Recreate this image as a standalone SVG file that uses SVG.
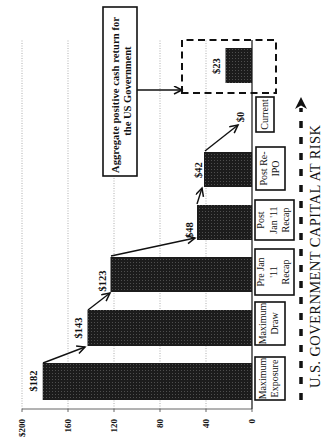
<svg xmlns="http://www.w3.org/2000/svg" width="327" height="444" viewBox="0 0 327 444">
<style>
text{font-family:"Liberation Serif","DejaVu Serif",serif;fill:#111}
.val{font-size:10.5px;font-weight:bold;text-anchor:middle}
.tick{font-size:9px;font-weight:bold;text-anchor:end}
.cat{font-size:10px;text-anchor:middle}
.bar{fill:url(#stip)}
.box{fill:#fff;stroke:#111;stroke-width:1.6}
.grid{stroke:#9a9a9a;stroke-width:0.8;stroke-dasharray:1 1.5}
.arr{stroke:#111;stroke-width:1.4;fill:none;marker-end:url(#ah)}
</style>
<defs>
<pattern id="stip" width="3" height="3" patternUnits="userSpaceOnUse">
<rect width="3" height="3" fill="#1c1c1c"/>
<rect x="1" y="1" width="0.8" height="0.8" fill="#6a6a6a"/>
</pattern>
<marker id="ah" markerUnits="userSpaceOnUse" markerWidth="11" markerHeight="10" refX="9" refY="4.5" orient="auto">
<path d="M1,0.5 L9,4.5 L1,8.5" fill="none" stroke="#111" stroke-width="1.5"/>
</marker>
</defs>
<rect width="327" height="444" fill="#fff"/>
<g transform="translate(0,444) rotate(-90)">
 <g id="axes">
  <line class="grid" x1="35" y1="22" x2="404" y2="22"/>
  <line class="grid" x1="35" y1="68" x2="404" y2="68"/>
  <line class="grid" x1="35" y1="114" x2="404" y2="114"/>
  <line class="grid" x1="35" y1="160" x2="404" y2="160"/>
  <line class="grid" x1="35" y1="206" x2="404" y2="206"/>
  <line x1="35" y1="22" x2="35" y2="252" stroke="#555" stroke-width="0.9"/>
  <g stroke="#555" stroke-width="0.9">
   <line x1="32" y1="22" x2="35" y2="22"/><line x1="32" y1="68" x2="35" y2="68"/>
   <line x1="32" y1="114" x2="35" y2="114"/><line x1="32" y1="160" x2="35" y2="160"/>
   <line x1="32" y1="206" x2="35" y2="206"/><line x1="32" y1="252" x2="35" y2="252"/>
  </g>
  <line x1="35" y1="252" x2="404" y2="252" stroke="#111" stroke-width="1.2"/>
  <text class="tick" x="25" y="25">$200</text>
  <text class="tick" x="25" y="71">160</text>
  <text class="tick" x="25" y="117">120</text>
  <text class="tick" x="25" y="163">80</text>
  <text class="tick" x="25" y="209">40</text>
  <text class="tick" x="25" y="255">0</text>
 </g>
 <g id="bar-max-exposure"><rect class="bar" x="44" y="42.7" width="37" height="209.3"/><text class="val" x="63" y="37">$182</text></g>
 <g id="bar-max-draw"><rect class="bar" x="98" y="87.5" width="36" height="164.5"/><text class="val" x="116" y="82">$143</text></g>
 <g id="bar-pre-jan"><rect class="bar" x="152" y="110.5" width="35" height="141.5"/><text class="val" x="163" y="106">$123</text></g>
 <g id="bar-post-jan"><rect class="bar" x="204" y="197" width="35" height="55"/><text class="val" x="214" y="193">$48</text></g>
 <g id="bar-post-ipo"><rect class="bar" x="257" y="204" width="35" height="48"/><text class="val" x="274" y="202">$42</text></g>
 <g id="bar-current"><text class="val" x="327" y="244">$0</text></g>
 <g id="bar-return"><rect class="bar" x="361" y="225.5" width="35" height="26.5"/><text class="val" x="378" y="220">$23</text></g>
 <g id="return-box"><rect x="351" y="182" width="53" height="94" fill="none" stroke="#111" stroke-width="2" stroke-dasharray="7 4.5"/></g>
 <g id="callout">
  <rect class="box" x="268" y="103" width="169" height="34" stroke-width="1.4"/>
  <text x="349" y="118.5" font-size="10.5" font-weight="bold" text-anchor="middle" textLength="156">Aggregate positive cash return for</text>
  <text x="353" y="131" font-size="10.5" font-weight="bold" text-anchor="middle">the US Government</text>
 </g>
 <g id="cat-max-exposure"><rect class="box" x="44" y="255" width="43" height="30"/><text class="cat" x="65.5" y="265.5">Maximum</text><text class="cat" x="65.5" y="277.5">Exposure</text></g>
 <g id="cat-max-draw"><rect class="box" x="99" y="255" width="43" height="30"/><text class="cat" x="120.5" y="265.5">Maximum</text><text class="cat" x="120.5" y="277.5">Draw</text></g>
 <g id="cat-pre-jan"><rect class="box" x="149" y="255" width="46" height="39"/><text class="cat" x="172" y="264">Pre Jan</text><text class="cat" x="172" y="276.5">'11</text><text class="cat" x="172" y="289">Recap</text></g>
 <g id="cat-post-jan"><rect class="box" x="204" y="255" width="40" height="39"/><text class="cat" x="224" y="264">Post</text><text class="cat" x="224" y="276.5">Jan '11</text><text class="cat" x="224" y="289">Recap</text></g>
 <g id="cat-post-ipo"><rect class="box" x="254" y="256" width="43" height="29"/><text class="cat" x="275.5" y="266.5">Post Re-</text><text class="cat" x="275.5" y="279">IPO</text></g>
 <g id="cat-current"><rect class="box" x="312" y="256" width="35" height="18"/><text class="cat" x="329.5" y="268">Current</text></g>
 <g id="connectors">
  <line class="arr" x1="81" y1="43" x2="97" y2="85"/>
  <line class="arr" x1="134" y1="88" x2="151" y2="110"/>
  <line class="arr" x1="188" y1="111" x2="206" y2="195"/>
  <line class="arr" x1="240" y1="197" x2="256" y2="202"/>
  <line class="arr" x1="293" y1="205" x2="319" y2="238"/>
  <line class="arr" x1="354" y1="137" x2="354" y2="182"/>
  <line x1="44" y1="301" x2="336" y2="301" stroke="#111" stroke-width="3.5" stroke-dasharray="7 9"/>
  <polygon points="347,301 335,295 338.5,301 335,307" fill="#111"/>
 </g>
 <g id="title"><text x="187.5" y="320" font-size="14.5" text-anchor="middle" textLength="263">U.S. GOVERNMENT CAPITAL AT RISK</text></g>
</g>
</svg>
